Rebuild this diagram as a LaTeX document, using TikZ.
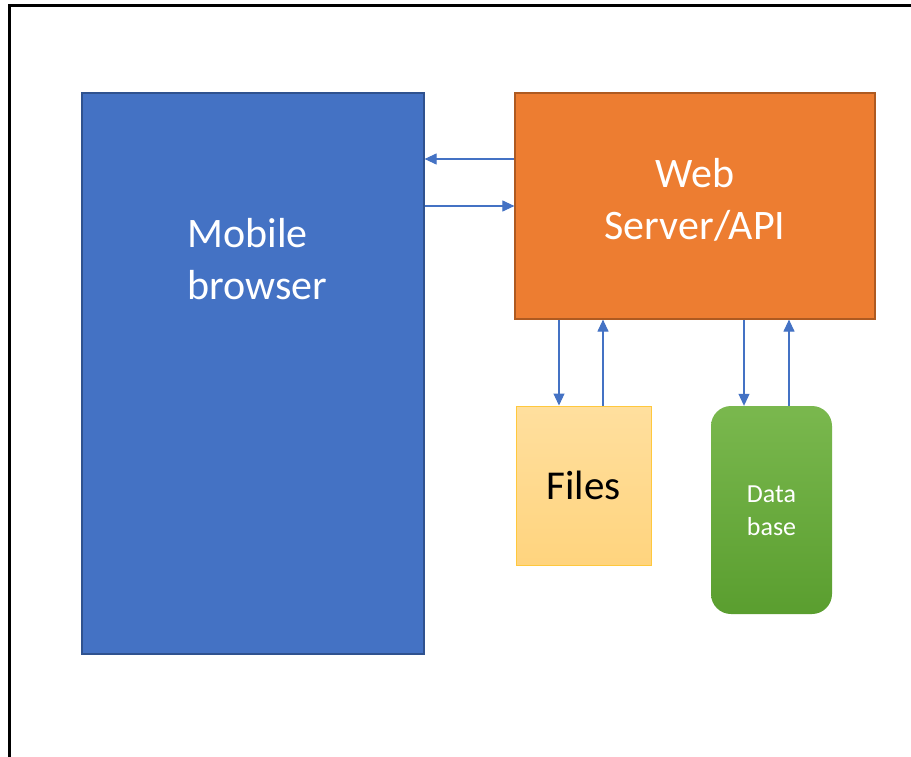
\documentclass[tikz,border=0pt]{standalone}
\usepackage{fontspec}
\setmainfont{Carlito}
\usetikzlibrary{arrows.meta}

\definecolor{mobfill}{HTML}{4472C4}
\definecolor{mobline}{HTML}{2F528F}
\definecolor{webfill}{HTML}{ED7D31}
\definecolor{webline}{HTML}{AE5A21}
\definecolor{filetop}{HTML}{FFDF9E}
\definecolor{filebot}{HTML}{FFD47E}
\definecolor{fileline}{HTML}{FFC83D}
\definecolor{dbtop}{HTML}{7AB84E}
\definecolor{dbbot}{HTML}{5A9E2F}
\definecolor{arrcol}{HTML}{4472C4}

\tikzset{
  panel/.style={draw, line width=1.2pt, inner sep=0pt},
  bigtext/.style={text=white, font=\fontsize{42}{52}\selectfont},
  arr/.style={draw=arrcol, line width=1.1pt, -{Triangle[length=12pt,width=11pt]}},
}

\begin{document}
\begin{tikzpicture}[x=1pt,y=-1pt]
  \useasboundingbox (0,0) rectangle (911,757);
  \fill[white] (0,0) rectangle (911,757);

  % outer frame (left and top edges)
  \draw[line width=3pt] (9,757) -- (9,5.5) -- (911,5.5);

  % boxes
  \node[panel, draw=mobline, fill=mobfill, minimum width=342pt, minimum height=561pt]
    (mob) at (253,373.5) {};
  \node[bigtext, align=left, anchor=north west] (mobtext) at (184,215) {Mobile\\browser};

  \node[panel, draw=webline, fill=webfill, minimum width=360pt, minimum height=226pt]
    (web) at (695,206) {};
  \node[bigtext, align=center] (webtext) at (695,199.5) {Web\\Server/API};

  \node[draw=fileline, line width=1pt, top color=filetop, bottom color=filebot,
        minimum width=135pt, minimum height=159pt, inner sep=0pt]
    (files) at (583.5,485.5) {};
  \node[text=black, font=\fontsize{41}{50}\selectfont] (filestext) at (583.5,485) {Files};

  \node[rounded corners=20pt, top color=dbtop, bottom color=dbbot,
        minimum width=121pt, minimum height=208pt, inner sep=0pt]
    (db) at (771.5,510) {};
  \node[text=white, align=center, font=\fontsize{26}{33}\selectfont] (dbtext) at (771.5,510.5) {Data\\base};

  % browser <-> server
  \coordinate (wtop) at ([yshift=47pt]web.west);
  \draw[arr] (wtop) -- (mob.east |- wtop);
  \draw[arr] (mob.east |- web.west) -- (web.west);

  % server <-> files
  \coordinate (fdown) at ([xshift=-24.5pt]files.north);
  \coordinate (fup) at ([xshift=19.5pt]files.north);
  \draw[arr] (web.south -| fdown) -- (fdown);
  \draw[arr] (fup) -- (web.south -| fup);

  % server <-> database
  \coordinate (ddown) at ([xshift=-27.5pt]db.north);
  \coordinate (dup) at ([xshift=17.5pt]db.north);
  \draw[arr] (web.south -| ddown) -- (ddown);
  \draw[arr] (dup) -- (web.south -| dup);
\end{tikzpicture}
\end{document}
